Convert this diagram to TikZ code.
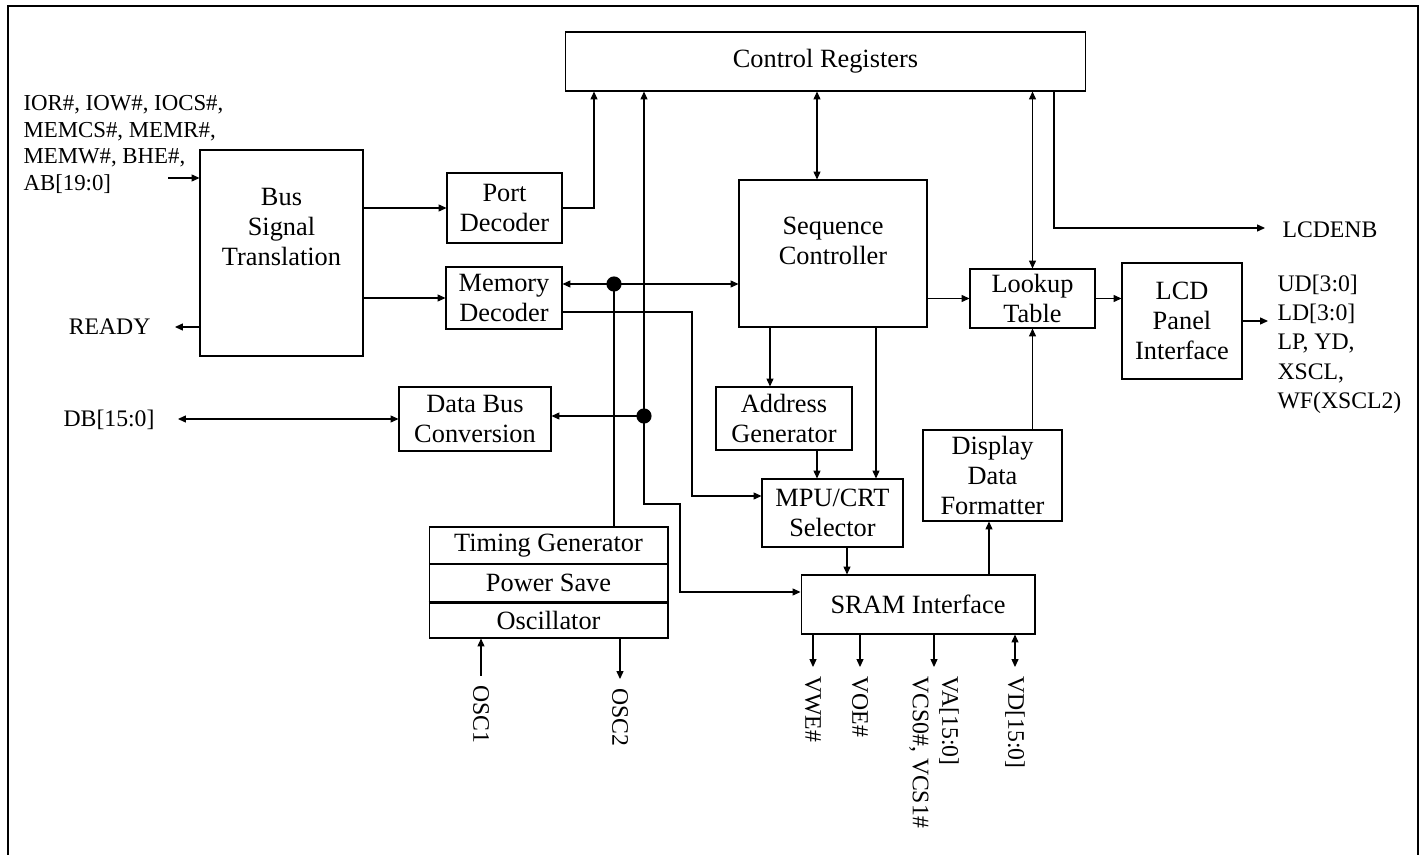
\documentclass[tikz,border=0pt]{standalone}
\usepackage{fontspec}
\setmainfont{Liberation Serif}
\usetikzlibrary{arrows.meta}

\begin{document}
\begin{tikzpicture}[x=0.02cm, y=-0.02cm, line width=0.6pt,
        font=\fontsize{15}{17}\selectfont,
        >={Triangle[length=4.5pt,width=4pt]},
        blk/.style={draw, inner sep=0pt, align=center},
        txt/.style={inner sep=0pt, align=left, font=\fontsize{13.5}{16.7}\selectfont},
        vtxt/.style={txt, rotate=-90, anchor=west, inner xsep=5pt}]
    \useasboundingbox (0,0) rectangle (1424,855);
    \draw[line width=1.2pt] (8,856) -- (8,6) -- (1418,6) -- (1418,856);

    % blocks
    \node[blk, minimum width=10.42cm, minimum height=1.18cm] (ctrl) at (825.5,61.5) {Control Registers};
    \node[blk, minimum width=3.26cm, minimum height=4.12cm] (bst) at (281.5,253) {};
    \node[align=center, inner sep=0pt] (bsttxt) at (281.5,227) {Bus\\Signal\\Translation};
    \node[blk, minimum width=2.30cm, minimum height=1.40cm] (port) at (504.5,208) {Port\\Decoder};
    \node[blk, minimum width=2.32cm, minimum height=1.24cm] (mem) at (504,298) {Memory\\Decoder};
    \node[blk, minimum width=3.04cm, minimum height=1.28cm] (dbc) at (475,419) {Data Bus\\Conversion};
    \node[blk, minimum width=3.76cm, minimum height=2.94cm] (seq) at (833,253.5) {};
    \node[align=center, inner sep=0pt] (seqtxt) at (833,241) {Sequence\\Controller};
    \node[blk, minimum width=2.50cm, minimum height=1.18cm] (lut) at (1032.5,298.5) {Lookup\\Table};
    \node[blk, minimum width=2.40cm, minimum height=2.32cm] (lcd) at (1182,321) {LCD\\Panel\\Interface};
    \node[blk, minimum width=2.78cm, minimum height=1.82cm] (ddf) at (992.5,475.5) {Display\\Data\\Formatter};
    \node[blk, minimum width=2.72cm, minimum height=1.26cm] (adr) at (784,418.5) {Address\\Generator};
    \node[blk, minimum width=2.82cm, minimum height=1.36cm] (mpu) at (832.5,513) {MPU/CRT\\Selector};
    \node[blk, minimum width=4.68cm, minimum height=1.18cm] (sram) at (918,604.5) {SRAM Interface};
    \node[blk, minimum width=4.78cm, minimum height=0.74cm] (tg) at (548.5,545.5) {Timing Generator};
    \node[blk, minimum width=4.78cm, minimum height=0.76cm] (ps) at (548.5,583) {Power Save};
    \node[blk, minimum width=4.78cm, minimum height=0.72cm] (osc) at (548.5,620) {Oscillator};
    \draw[line width=1.2pt] (ps.south west) -- (ps.south east);

    % outside signals
    \node[txt, anchor=north west, font=\fontsize{13}{15.1}\selectfont] (busin) at (23,95)
        {IOR\#, IOW\#, IOCS\#,\\MEMCS\#, MEMR\#,\\MEMW\#, BHE\#,\\AB[19:0]};
    \node[txt, anchor=east] (ready) at (151,327) {READY};
    \node[txt, anchor=east] (db) at (155,420) {DB[15:0]};
    \node[txt, anchor=west] (lcdenb) at (1282,230) {LCDENB};
    \node[txt, anchor=west] (lcdout) at (1277,344) {UD[3:0]\\LD[3:0]\\LP, YD,\\XSCL,\\WF(XSCL2)};
    \node[vtxt] (osc1) at (481,676) {OSC1};
    \node[vtxt] (osc2) at (620,679) {OSC2};
    \node[vtxt] (vwe) at (813,667) {VWE\#};
    \node[vtxt] (voe) at (860,667) {VOE\#};
    \node[vtxt] (va) at (934,667) {VA[15:0]\\VCS0\#, VCS1\#};
    \node[vtxt] (vd) at (1015,667) {VD[15:0]};

    \coordinate (inend) at (168,178);
    \coordinate (readyend) at (175,327);
    \coordinate (dbend) at (178,419);
    \coordinate (enbend) at (1265,228);
    \coordinate (lcdoutend) at (1268,321);
    \coordinate (busA) at (614,284);
    \coordinate (busB) at (644,416);
    \coordinate (jog) at (680,504);
    \coordinate (memjog) at (692,496);

    % left side
    \draw[->] (inend) -- (bst.west |- inend);
    \draw[->] (bst.west |- readyend) -- (readyend);
    \draw[->] (bst.east |- port.west) -- (port.west);
    \draw[->] (bst.east |- mem.west) -- (mem.west);
    \draw[<->] (dbend) -- (dbc.west);
    \draw[->] (port.east) -| (ctrl.south -| 594,0);

    % buses
    \draw[<->] (mem.east |- busA) -- (seq.west |- busA);
    \draw (busA) -- (busA |- tg.north);
    \draw[<->] (busB |- ctrl.south) -- (busB |- jog) -- (jog) |- (sram.west |- 0,592);
    \draw[->] (busB) -- (dbc.east |- busB);
    \draw[->] (mem.east |- 0,312) -| (memjog) -- (mpu.west |- memjog);
    \filldraw (busA) circle[radius=4pt] (busB) circle[radius=4pt];

    % right side
    \draw[<->] (ctrl.south -| 817,0) -- (seq.north -| 817,0);
    \draw[<->] (ctrl.south -| lut.north) -- (lut.north);
    \draw[->] (ctrl.south -| 1054,0) |- (enbend);
    \draw[->] (seq.east |- lut.west) -- (lut.west);
    \draw[->] (lut.east) -- (lcd.west |- lut.east);
    \draw[->] (lcd.east) -- (lcdoutend);
    \draw[->] (seq.south -| 770,0) -- (adr.north -| 770,0);
    \draw[->] (adr.south -| 817,0) -- (mpu.north -| 817,0);
    \draw[->] (seq.south -| 876,0) -- (mpu.north -| 876,0);
    \draw[->] (mpu.south -| 847,0) -- (sram.north -| 847,0);
    \draw[->] (sram.north -| 989,0) -- (ddf.south -| 989,0);
    \draw[->] (ddf.north -| lut.south) -- (lut.south);

    % pins
    \draw[<-] (osc.south -| osc1.west) -- (osc1.west);
    \draw[->] (osc.south -| osc2.west) -- (osc2.west);
    \draw[->] (sram.south -| vwe.west) -- (vwe.west);
    \draw[->] (sram.south -| voe.west) -- (voe.west);
    \draw[->] (sram.south -| va.west) -- (va.west);
    \draw[<->] (sram.south -| vd.west) -- (vd.west);
\end{tikzpicture}
\end{document}
